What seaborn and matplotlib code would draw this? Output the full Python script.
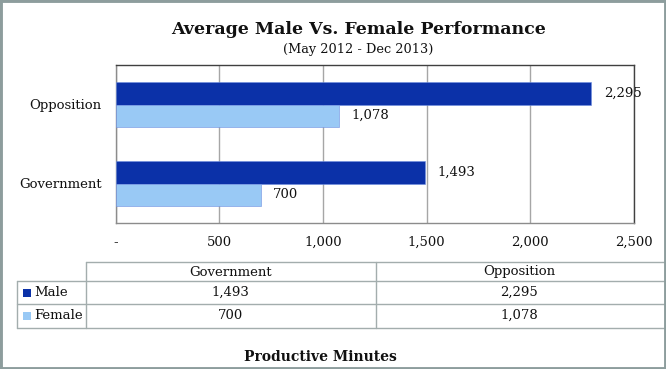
import matplotlib
matplotlib.use('Agg')
import matplotlib.pyplot as plt
import seaborn as sns
import pandas as pd
from matplotlib.patches import Rectangle
from matplotlib.ticker import FixedLocator, FixedFormatter

# ---------------- data ----------------
categories = ['Opposition', 'Government']          # bar order, top to bottom
table_columns = ['Government', 'Opposition']       # order in the data table
series_names = ['Male', 'Female']
male_values = [2295, 1493]      # Opposition, Government
female_values = [1078, 700]     # Opposition, Government
x_ticks = [0, 500, 1000, 1500, 2000, 2500]
x_tick_labels = ['-', '500', '1,000', '1,500', '2,000', '2,500']
title = 'Average Male Vs. Female Performance'
subtitle = '(May 2012 - Dec 2013)'
x_label = 'Productive Minutes'

colors = {'Male': '#0B31A8', 'Female': '#99C9F5'}

sns.set_theme(style='white')
plt.rcParams['font.family'] = ['DejaVu Serif', 'DejaVu Sans']

W, H = 666, 369
fig = plt.figure(figsize=(W / 100, H / 100), dpi=100)


def fx(px):
    return px / W


def fy(py):
    return 1 - py / H


# ---------------- bar chart ----------------
ax = fig.add_axes([fx(115.5), fy(223), fx(634) - fx(115.5), fy(65) - fy(223)])

df = pd.DataFrame({
    'category': categories * 2,
    'series': ['Male'] * len(categories) + ['Female'] * len(categories),
    'value': male_values + female_values,
})
sns.barplot(data=df, y='category', x='value', hue='series', order=categories,
            hue_order=series_names, palette=colors, width=0.57, orient='h',
            saturation=1, ax=ax, legend=False, edgecolor='#6f8fe0',
            linewidth=0.4, zorder=3)

for cont in ax.containers:
    ax.bar_label(cont, fmt='{:,.0f}', padding=9, fontsize=9.5, color='#111111')

ax.set_xlim(x_ticks[0], x_ticks[-1])
ax.set_ylim(1.5, -0.5)
ax.xaxis.set_major_locator(FixedLocator(x_ticks))
ax.xaxis.set_major_formatter(FixedFormatter(x_tick_labels))
ax.tick_params(axis='x', length=0, pad=9.5, labelsize=9.5, colors='#111111')
ax.tick_params(axis='y', length=0, pad=10, labelsize=9.5, colors='#111111')
ax.set_xlabel('')
ax.set_ylabel('')
ax.grid(axis='x', color='#a6a6a6', linewidth=1, zorder=0)
ax.set_axisbelow(True)
for side in ['top', 'right']:
    ax.spines[side].set_color('#404040')
for side in ['left', 'bottom']:
    ax.spines[side].set_color('#8c8c8c')
for s in ax.spines.values():
    s.set_linewidth(1)
    s.set_visible(True)

# ---------------- data table (drawn in pixel coordinates) ----------------
ax_t = fig.add_axes([0, 0, 1, 1], facecolor='none')
ax_t.set_xlim(0, W)
ax_t.set_ylim(H, 0)
ax_t.axis('off')

values = {'Male': dict(zip(categories, male_values)),
          'Female': dict(zip(categories, female_values))}

line_col = '#a3adad'
tbl_left, lab_right, tbl_right = 17, 86, 666
col_edges = [lab_right, 375.5, tbl_right]
row_edges = [262, 281, 304, 327.5]

# horizontal lines
ax_t.plot([lab_right, tbl_right], [row_edges[0]] * 2, color=line_col, lw=1)
for yy in row_edges[1:]:
    ax_t.plot([tbl_left, tbl_right], [yy] * 2, color=line_col, lw=1)
# vertical lines
ax_t.plot([tbl_left] * 2, [row_edges[1], row_edges[-1]], color=line_col, lw=1)
for xx in col_edges[:-1]:
    ax_t.plot([xx] * 2, [row_edges[0], row_edges[-1]], color=line_col, lw=1)

for j, col in enumerate(table_columns):
    xc = (col_edges[j] + col_edges[j + 1] - (3 if j == 1 else 0)) / 2
    ax_t.text(xc, (row_edges[0] + row_edges[1]) / 2 + 0.5, col, ha='center',
              va='center', fontsize=9.5, color='#111111')
for i, name in enumerate(series_names, start=1):
    yc = (row_edges[i] + row_edges[i + 1]) / 2
    ax_t.scatter([27], [yc], marker='s', s=30, color=colors[name], zorder=5,
                 linewidths=0)
    ax_t.text(34, yc, name, ha='left', va='center', fontsize=9.5, color='#111111')
    for j, col in enumerate(table_columns):
        xc = (col_edges[j] + col_edges[j + 1] - (3 if j == 1 else 0)) / 2
        ax_t.text(xc, yc, f'{values[name][col]:,}', ha='center', va='center',
                  fontsize=9.5, color='#111111')

# ---------------- texts ----------------
fig.text(fx(359), fy(30), title, ha='center', va='center', fontsize=12.5,
         fontweight='bold', color='#111111')
fig.text(fx(358), fy(49), subtitle, ha='center', va='center', fontsize=9.3,
         color='#111111')
fig.text(fx(320), fy(357), x_label, ha='center', va='center', fontsize=10,
         fontweight='bold', color='#111111')

fig.patches.append(Rectangle((0, 0), 1, 1, transform=fig.transFigure, fill=False,
                             edgecolor='#8d9d9d', linewidth=3.5))

fig.savefig('out.png', dpi=100)
